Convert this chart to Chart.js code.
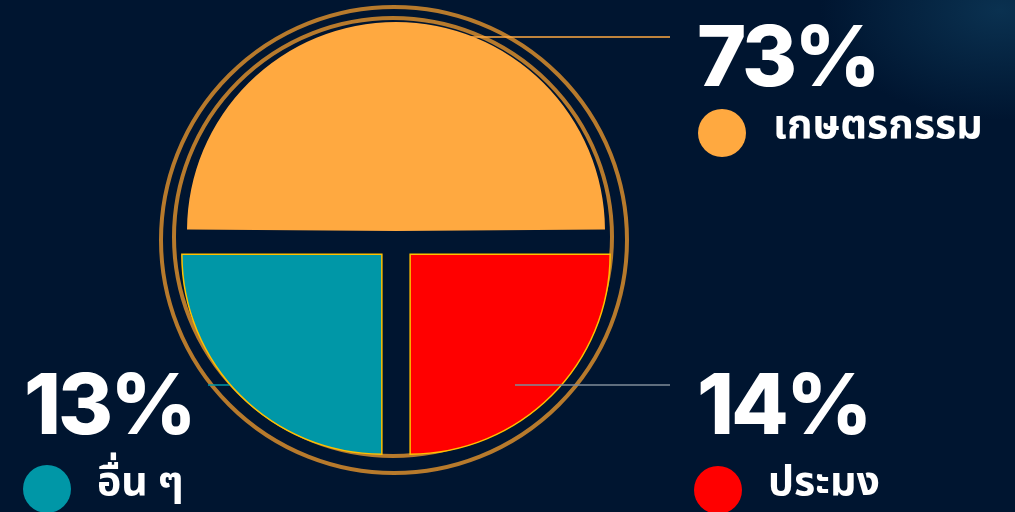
<!DOCTYPE html>
<html>
<head>
<meta charset="utf-8">
<script src="https://cdn.jsdelivr.net/npm/chart.js@4"></script>
<style>
    html, body { margin: 0; padding: 0; }
    body {
        width: 1015px; height: 512px; overflow: hidden; position: relative;
        background: radial-gradient(ellipse 180px 110px at 1000px 10px, #0a3150 0%, rgba(0,21,48,0) 100%), #001530;
        font-family: "Inter", "Noto Sans Thai", "Noto Sans", sans-serif;
        color: #ffffff;
    }
    #wrap { position: absolute; left: 0; top: 0; width: 1015px; height: 512px; }
    .pct { position: absolute; font-weight: 800; font-size: 84px; line-height: 1; letter-spacing: -3px; }
    .lbl { position: absolute; font-weight: 700; font-size: 41px; line-height: 1; white-space: nowrap; }
    .dot { position: absolute; width: 48px; height: 48px; border-radius: 50%; }
</style>
</head>
<body>
<div id="wrap"><canvas id="pieChart" width="1015" height="512"></canvas></div>
<div id="texts"></div>
<script>
    // ข้อมูลสัดส่วน
    const categories = ['เกษตรกรรม', 'ประมง', 'อื่น ๆ'];
    const percentLabels = [73, 14, 13];
    // สัดส่วนของวงกลมที่แต่ละชิ้นใช้ในภาพ
    const sliceShares = [50, 25, 25];
    const sliceColors = ['#FFA940', '#FF0000', '#0097A7'];
    const sliceBorders = ['rgba(0,0,0,0)', '#FFC000', '#FFC000'];

    // ตำแหน่งข้อความ
    const textPos = [
        { pct: [697, 14], dot: [698, 109], lbl: [773, 103] },
        { pct: [697, 362], dot: [694, 466], lbl: [768, 460] },
        { pct: [24, 362], dot: [23, 465], lbl: [97, 460] }
    ];

    const texts = document.getElementById('texts');
    categories.forEach((name, i) => {
        const p = textPos[i];
        const pct = document.createElement('div');
        pct.className = 'pct';
        pct.style.left = p.pct[0] + 'px';
        pct.style.top = p.pct[1] + 'px';
        pct.textContent = percentLabels[i] + '%';
        texts.appendChild(pct);

        const dot = document.createElement('div');
        dot.className = 'dot';
        dot.style.left = p.dot[0] + 'px';
        dot.style.top = p.dot[1] + 'px';
        dot.style.background = sliceColors[i];
        texts.appendChild(dot);

        const lbl = document.createElement('div');
        lbl.className = 'lbl';
        lbl.style.left = p.lbl[0] + 'px';
        lbl.style.top = p.lbl[1] + 'px';
        lbl.textContent = name;
        texts.appendChild(lbl);
    });

    // วงแหวนรอบวงกลม + เส้นชี้
    const ringPlugin = {
        id: 'rings',
        beforeDatasetsDraw(chart) {
            const arc = chart.getDatasetMeta(0).data[0];
            const ctx = chart.ctx;
            const r = arc.outerRadius;
            ctx.save();
            ctx.strokeStyle = '#B77A2C';
            ctx.lineWidth = 4;
            ctx.beginPath();
            ctx.arc(arc.x - 2, arc.y, r + 33, 0, Math.PI * 2);
            ctx.stroke();
            ctx.beginPath();
            ctx.arc(arc.x - 3, arc.y - 3, r + 19, 0, Math.PI * 2);
            ctx.stroke();
            // เส้นชี้ของ "อื่น ๆ" อยู่หลังชิ้น
            ctx.strokeStyle = '#0097A7';
            ctx.lineWidth = 1.5;
            ctx.beginPath();
            ctx.moveTo(arc.x - r + 12, arc.y + 145);
            ctx.lineTo(arc.x - 100, arc.y + 145);
            ctx.stroke();
            ctx.restore();
        },
        afterDatasetsDraw(chart) {
            const arc = chart.getDatasetMeta(0).data[0];
            const ctx = chart.ctx;
            const r = arc.outerRadius;
            ctx.save();
            ctx.lineWidth = 1.5;
            ctx.strokeStyle = '#FFA940';
            ctx.beginPath();
            ctx.moveTo(arc.x + 72, arc.y - r - 3);
            ctx.lineTo(670, arc.y - r - 3);
            ctx.stroke();
            ctx.strokeStyle = '#7F8C99';
            ctx.beginPath();
            ctx.moveTo(arc.x + 119, arc.y + 145);
            ctx.lineTo(670, arc.y + 145);
            ctx.stroke();
            ctx.restore();
        }
    };

    const pieChart = new Chart(document.getElementById('pieChart'), {
        type: 'pie',
        data: {
            labels: categories,
            datasets: [{
                data: sliceShares,
                backgroundColor: sliceColors,
                borderColor: sliceBorders,
                borderWidth: [0, 1.5, 1.5],
                // v4 ใช้ offset/4 สำหรับชิ้นหนึ่งในสี่ และ offset/2 สำหรับครึ่งวง
                offset: [36, 80, 80],
                borderJoinStyle: 'miter'
            }]
        },
        options: {
            responsive: false,
            animation: false,
            events: [],
            rotation: -90,
            radius: 200,
            layout: { padding: { left: 0, right: 223, top: 0, bottom: 32 } },
            plugins: {
                legend: { display: false },
                tooltip: { enabled: false }
            }
        },
        plugins: [ringPlugin]
    });
</script>
</body>
</html>
